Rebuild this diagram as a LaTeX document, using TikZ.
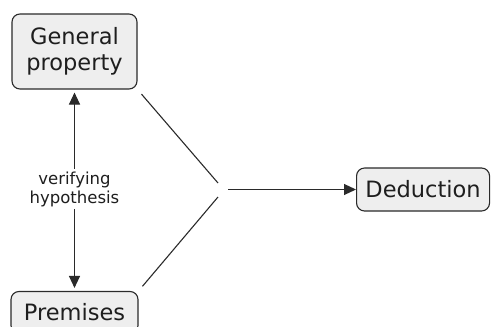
\documentclass[tikz,border=0pt]{standalone}
\usepackage{fontspec}
\setmainfont{DejaVu Sans}
\usetikzlibrary{arrows.meta}
\definecolor{boxfill}{HTML}{EEEEEE}
\definecolor{boxline}{HTML}{2A2A2A}
\definecolor{txt}{HTML}{1E1E1E}
\tikzset{
  concept/.style={draw=boxline, fill=boxfill, rounded corners=8pt, line width=1.1pt,
    text=txt, font=\fontsize{22.5}{26}\selectfont, align=center, inner sep=0pt},
  link/.style={draw=boxline, line width=1.1pt},
  tip/.style={-{Triangle[length=12pt,width=11pt]}},
  lbl/.style={fill=white, text=txt, font=\fontsize{16.5}{19}\selectfont, align=center, inner sep=3pt}
}
\begin{document}
\begin{tikzpicture}[x=1pt,y=-1pt]
\useasboundingbox (0,0) rectangle (491,327);
\node[concept, minimum width=125pt, minimum height=75pt] (gp) at (74.5,51.5) {General\\property};
\node[concept, minimum width=127pt, minimum height=42pt] (pr) at (74.5,312.5) {Premises};
\node[concept, minimum width=133pt, minimum height=43pt, anchor=west] (de) at (356,189.5) {Deduction};
\coordinate (ju) at (218,183);
\coordinate (jl) at (218,197);
\coordinate (jo) at (228,189.5);
\draw[link, shorten <=6pt] (gp.south east) -- (ju);
\draw[link, shorten <=6pt] (pr.north east) -- (jl);
\draw[link, tip] (jo) -- (de.west);
\draw[link, tip, shorten >=3pt] (74.5,190) -- (gp.south);
\draw[link, tip, shorten >=3pt] (74.5,190) -- (pr.north);
\node[lbl] (vh) at (74.5,189) {verifying\\hypothesis};
\end{tikzpicture}
\end{document}
